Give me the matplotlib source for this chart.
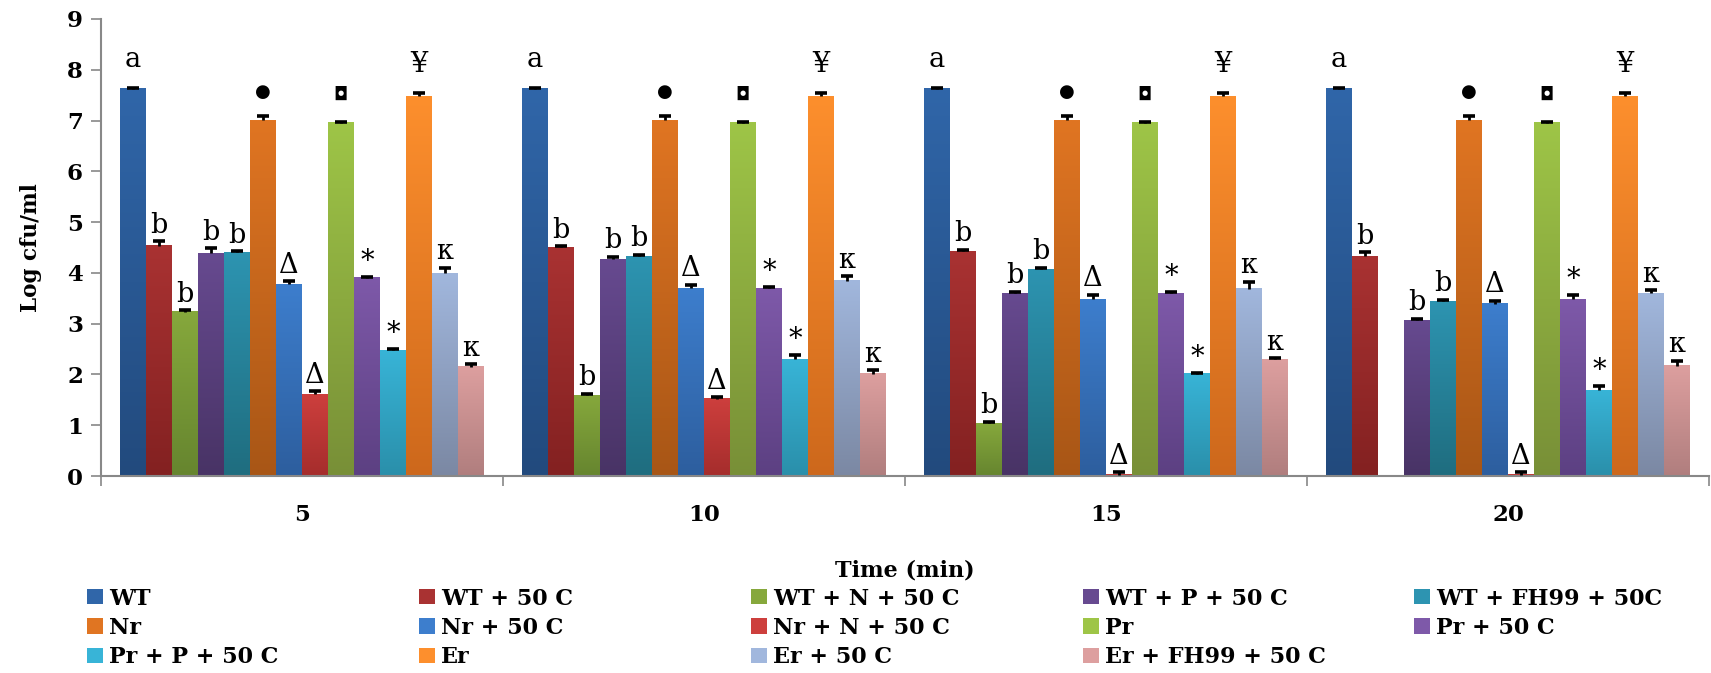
import numpy as np
import matplotlib
matplotlib.use('Agg')
import matplotlib.pyplot as plt
from matplotlib.colors import LinearSegmentedColormap
from matplotlib.patches import Patch

# ---------------- data ----------------
times = ['5', '10', '15', '20']
series = ['WT', 'WT + 50 C', 'WT + N + 50 C', 'WT + P + 50 C', 'WT + FH99 + 50C',
          'Nr', 'Nr + 50 C', 'Nr + N + 50 C', 'Pr', 'Pr + 50 C', 'Pr + P + 50 C',
          'Er', 'Er + 50 C', 'Er + FH99 + 50 C']

wt = [7.63, 7.63, 7.63, 7.63]
wt_50 = [4.53, 4.50, 4.43, 4.33]
wt_n_50 = [3.23, 1.59, 1.04, np.nan]
wt_p_50 = [4.39, 4.27, 3.60, 3.07]
wt_fh99_50 = [4.41, 4.33, 4.07, 3.44]
nr = [7.01, 7.01, 7.01, 7.01]
nr_50 = [3.78, 3.70, 3.48, 3.39]
nr_n_50 = [1.61, 1.52, 0.02, 0.02]
pr = [6.96, 6.96, 6.96, 6.96]
pr_50 = [3.90, 3.70, 3.60, 3.48]
pr_p_50 = [2.48, 2.30, 2.01, 1.69]
er = [7.48, 7.48, 7.48, 7.48]
er_50 = [3.99, 3.84, 3.69, 3.60]
er_fh99_50 = [2.15, 2.01, 2.30, 2.17]

wt_err = [0.02, 0.02, 0.02, 0.02]
wt_50_err = [0.10, 0.03, 0.03, 0.08]
wt_n_50_err = [0.03, 0.03, 0.03, 0.0]
wt_p_50_err = [0.10, 0.05, 0.03, 0.03]
wt_fh99_50_err = [0.02, 0.03, 0.03, 0.03]
nr_err = [0.08, 0.08, 0.08, 0.08]
nr_50_err = [0.06, 0.07, 0.09, 0.06]
nr_n_50_err = [0.06, 0.03, 0.05, 0.06]
pr_err = [0.02, 0.02, 0.02, 0.02]
pr_50_err = [0.02, 0.02, 0.02, 0.08]
pr_p_50_err = [0.02, 0.08, 0.02, 0.08]
er_err = [0.07, 0.07, 0.07, 0.07]
er_50_err = [0.11, 0.10, 0.14, 0.06]
er_fh99_50_err = [0.05, 0.08, 0.02, 0.10]

sig_labels = ['a', 'b', 'b', 'b', 'b', '●', 'Δ', 'Δ', '◘', '*', '*', '¥', 'κ', 'κ']

values = [wt, wt_50, wt_n_50, wt_p_50, wt_fh99_50, nr, nr_50, nr_n_50,
          pr, pr_50, pr_p_50, er, er_50, er_fh99_50]
errors = [wt_err, wt_50_err, wt_n_50_err, wt_p_50_err, wt_fh99_50_err, nr_err,
          nr_50_err, nr_n_50_err, pr_err, pr_50_err, pr_p_50_err, er_err,
          er_50_err, er_fh99_50_err]

# ---------------- style ----------------
grad_top = ['#3066a9', '#a93232', '#86a83c', '#674a90', '#2d94b1', '#e07522',
            '#3d7ecd', '#cd3f3d', '#9ec547', '#7e59a9', '#38b4d7', '#fd8f2d',
            '#a1b7dd', '#dd9f9f']
grad_bot = ['#224a7d', '#832121', '#66852f', '#483365', '#1f6d7f', '#a85616',
            '#2d5e9e', '#a52d2c', '#788f37', '#5c4082', '#2a8faa', '#cd681c',
            '#7b88a3', '#b07e7e']
label_offset = {'a': 15, '●': 14, '◘': 16, '¥': 15}
label_size = {'●': 13, '◘': 13}

serif = ['DejaVu Serif', 'DejaVu Sans']
plt.rcParams['font.family'] = serif

fig = plt.figure(figsize=(17.11, 6.73), dpi=100)
ax = fig.add_axes([0.059, 0.2927, 0.9398, 0.6791])

n = len(series)
group_x = np.arange(len(times))
bw = 0.905 / n
grad = np.linspace(0, 1, 256).reshape(-1, 1)

for j in range(n):
    xs = group_x + (j - (n - 1) / 2) * bw
    vals = np.array(values[j], dtype=float)
    errs = np.array(errors[j], dtype=float)
    bars = ax.bar(xs, np.nan_to_num(vals), width=bw, color=grad_top[j], zorder=2,
                  linewidth=0, label=series[j])
    cmap = LinearSegmentedColormap.from_list('g%d' % j, [grad_bot[j], grad_top[j]])
    for b, v in zip(bars, vals):
        if np.isnan(v) or v <= 0:
            continue
        x0 = b.get_x()
        ax.imshow(grad, extent=[x0, x0 + b.get_width(), 0, b.get_height()],
                  origin='lower', cmap=cmap, aspect='auto', zorder=2.1,
                  interpolation='bilinear')
    ok = ~np.isnan(vals)
    ax.errorbar(xs[ok], vals[ok], yerr=[np.zeros(ok.sum()), errs[ok]], fmt='none',
                ecolor='black', elinewidth=2, capsize=0, zorder=3)
    ax.plot(xs[ok], vals[ok] + errs[ok], linestyle='none', marker='_',
            markersize=9, markeredgewidth=2.6, color='black', zorder=3)
    lab = sig_labels[j]
    for x, v, e in zip(xs, vals, errs):
        if np.isnan(v):
            continue
        ax.annotate(lab, (x, v + e), xytext=(0, label_offset.get(lab, 6)),
                    textcoords='offset points', ha='center', va='baseline',
                    fontsize=label_size.get(lab, 19.5), family=serif, zorder=4)

ax.set_xlim(-0.5, len(times) - 0.5)
ax.set_ylim(0, 9)
ax.set_yticks(range(0, 10))
ax.tick_params(axis='y', direction='out', length=7, width=1.2, color='#888888',
               labelsize=16.5, pad=6)
for t in ax.get_yticklabels():
    t.set_fontweight('bold')
ax.set_xticks(group_x)
ax.set_xticklabels(times, fontsize=16.5, fontweight='bold')
ax.set_xticks(np.arange(-0.5, len(times)), minor=True)
ax.tick_params(axis='x', which='major', length=0, pad=20)
ax.tick_params(axis='x', which='minor', direction='out', length=7, width=1.2,
               color='#888888')
for s in ['top', 'right']:
    ax.spines[s].set_visible(False)
for s in ['left', 'bottom']:
    ax.spines[s].set_color('#888888')
    ax.spines[s].set_linewidth(1.5)

ax.set_ylabel('Log cfu/ml', fontsize=15.5, fontweight='bold', labelpad=18)
fig.text(0.529, 0.152, 'Time (min)', ha='center', va='center', fontsize=16,
         fontweight='bold')

# legend: row-major over 5 columns, one legend per column
handles = [Patch(facecolor=grad_top[j], edgecolor='none', label=series[j]) for j in range(n)]
col_x = [0.0507, 0.2451, 0.4389, 0.6331, 0.8264]
for c in range(5):
    idx = list(range(c, n, 5))
    fig.legend([handles[i] for i in idx], [series[i] for i in idx],
               loc='upper left', bbox_to_anchor=(col_x[c], 0.127),
               frameon=False, borderpad=0, borderaxespad=0,
               handlelength=0.72, handleheight=0.68, handletextpad=0.27,
               labelspacing=0.33, prop={'family': serif, 'weight': 'bold', 'size': 16})

fig.savefig('out.png', dpi=100)
